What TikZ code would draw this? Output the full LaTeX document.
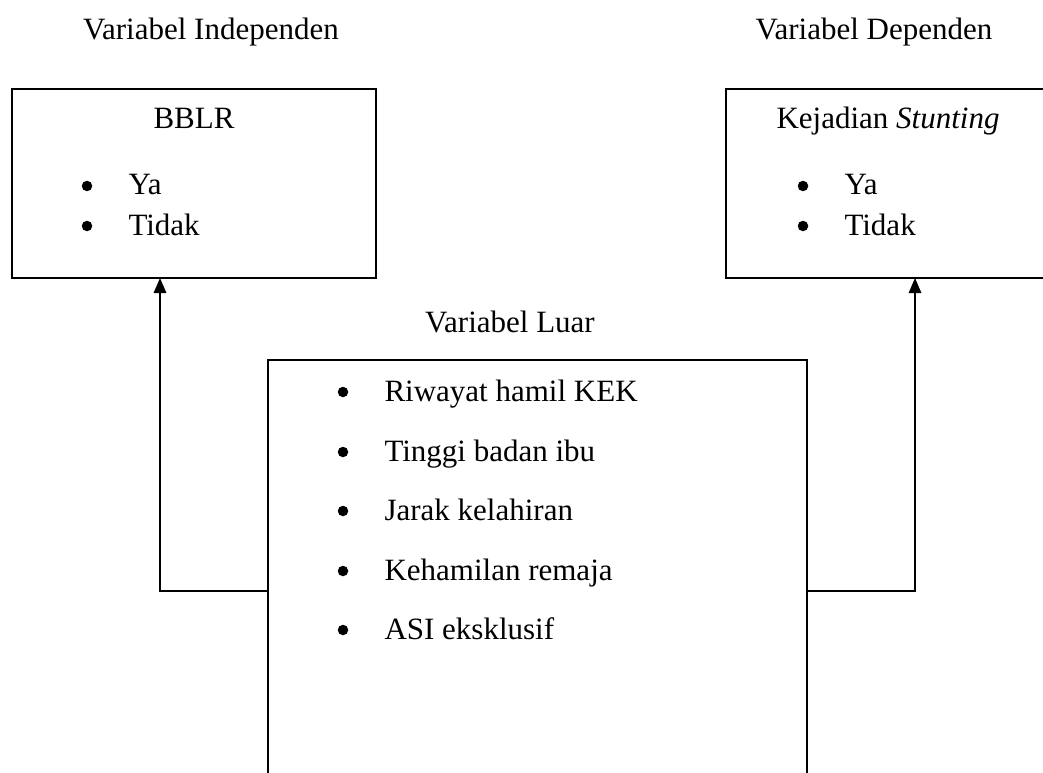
\documentclass[tikz,border=0pt]{standalone}
\usepackage{fontspec}
\setmainfont{Liberation Serif}
\usepackage{tikz}
\usetikzlibrary{
	arrows.meta,
	positioning
}

\begin{document}
\begin{tikzpicture}[x=0.4pt, y=-0.4pt,
	font=\fontsize{12.4}{15}\selectfont,
	kotak/.style={draw, line width=0.8pt, inner sep=0pt, outer sep=0pt},
	judul/.style={anchor=base, inner sep=0pt},
	isi/.style={anchor=base west, inner sep=0pt},
	panah/.style={line width=0.6pt, -{Triangle[length=6pt, width=5pt]}}]
	\useasboundingbox (0,0) rectangle (1043,772);
	
	% judul kolom
	\node[judul] (indep) at (211,40) {Variabel Independen};
	\node[judul] (dep) at (874,40) {Variabel Dependen};
	
	% kotak kiri: BBLR
	\node[kotak, minimum width=145.6pt, minimum height=75.6pt] (bblr) at (194,183.5) {};
	\node[judul] (bblrT) at (194,129) {BBLR};
	\fill (87,186) circle (2.1pt);
	\node[isi] (bblrA) at (128,195) {Ya};
	\fill (87,226) circle (2.1pt);
	\node[isi] (bblrB) at (128,235) {Tidak};
	
	% kotak kanan: kejadian stunting
	\node[kotak, minimum width=129.6pt, minimum height=75.6pt] (stunting) at (888,183.5) {};
	\node[judul] (stuntingT) at (888,129) {Kejadian \textit{Stunting}};
	\fill (803,186) circle (2.1pt);
	\node[isi] (stuntingA) at (844,195) {Ya};
	\fill (803,226) circle (2.1pt);
	\node[isi] (stuntingB) at (844,235) {Tidak};
	
	% kotak tengah: variabel luar
	\node[judul] (luarT) at (510,332) {Variabel Luar};
	\node[kotak, minimum width=215.6pt, minimum height=176pt] (luar) at (537.5,580) {};
	\fill (343,392) circle (2.1pt);
	\node[isi] (luarA) at (384,401) {Riwayat hamil KEK};
	\fill (343,452) circle (2.1pt);
	\node[isi] (luarB) at (384,461) {Tinggi badan ibu};
	\fill (343,511) circle (2.1pt);
	\node[isi] (luarC) at (384,520) {Jarak kelahiran};
	\fill (343,571) circle (2.1pt);
	\node[isi] (luarD) at (384,580) {Kehamilan remaja};
	\fill (343,630) circle (2.1pt);
	\node[isi] (luarE) at (384,639) {ASI eksklusif};
	
	% garis penghubung
	\coordinate (yL) at (0,591);
	\coordinate (xL) at (160,0);
	\coordinate (xK) at (915,0);
	\draw[panah] (luar.west |- yL) -| (bblr.south -| xL);
	\draw[panah] (luar.east |- yL) -| (stunting.south -| xK);
\end{tikzpicture}
\end{document}
